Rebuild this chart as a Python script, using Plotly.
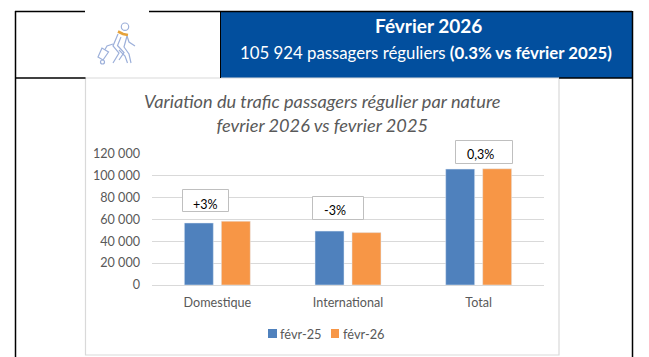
import plotly.graph_objects as go

W, H = 649, 357

categories = ["Domestique", "International", "Total"]
series_names = ["févr-25", "févr-26"]
values_2025 = [56500, 49100, 105600]
values_2026 = [58200, 47724, 105924]
series_colors = ["#4F81BD", "#F79646"]
y_ticks = [0, 20000, 40000, 60000, 80000, 100000, 120000]
y_labels = ["0", "20 000", "40 000", "60 000", "80 000", "100 000", "120 000"]
variation_labels = ["+3%", "-3%", "0,3%"]
chart_title = "Variation du trafic passagers régulier par nature<br>fevrier 2026 vs fevrier 2025"
banner_title = "Février 2026"
banner_subtitle = "105 924 passagers réguliers <b>(0.3% vs février 2025)</b>"

FONT = "Lato, Carlito, Calibri, sans-serif"
GREY = "#595959"
BLACK = "#000000"
BANNER = "#024F9E"
CARD = "#D9D9D9"
ICON = "#9DB0DA"
ICON_ACCENT = "#E5A23B"


def fx(p):
    return p / W


def fy(p):
    return 1 - p / H


def rect(x0, y0, x1, y1, fill="rgba(0,0,0,0)", line=None, width=1, layer="above"):
    return dict(type="rect", xref="paper", yref="paper",
                x0=fx(x0), x1=fx(x1), y0=fy(y0), y1=fy(y1),
                fillcolor=fill, layer=layer,
                line=dict(color=line or "rgba(0,0,0,0)", width=width if line else 0))


def seg(x0, y0, x1, y1, color=BLACK, width=1.5, layer="above"):
    return dict(type="line", xref="paper", yref="paper",
                x0=fx(x0), x1=fx(x1), y0=fy(y0), y1=fy(y1),
                layer=layer, line=dict(color=color, width=width))


def poly(points, color=ICON, width=1.2, closed=False):
    d = "M" + " L".join(f"{fx(x):.5f},{fy(y):.5f}" for x, y in points)
    if closed:
        d += " Z"
    return dict(type="path", xref="paper", yref="paper", path=d, layer="above",
                line=dict(color=color, width=width))


def text(x, y, s, size, color=GREY, xanchor="center", italic=False):
    return dict(xref="paper", yref="paper", x=fx(x), y=fy(y), text=s, showarrow=False,
                xanchor=xanchor, yanchor="middle",
                font=dict(family=FONT, size=size, color=color,
                          style="italic" if italic else "normal"))


fig = go.Figure()
for name, vals, col in zip(series_names, [values_2025, values_2026], series_colors):
    fig.add_trace(go.Bar(name=name, x=categories, y=vals, marker=dict(color=col),
                         showlegend=False, hoverinfo="x+y"))

shapes = [
    rect(220.5, 11.5, 632, 78, fill=BANNER, layer="below"),
    rect(85.5, 78, 559, 355, fill="#FFFFFF", line=CARD, width=1.2, layer="below"),
    seg(15, 11.5, 85, 11.5), seg(149, 11.5, 632, 11.5),
    seg(15, 78, 85.5, 78), seg(559, 78, 632, 78),
    seg(15.5, 11, 15.5, 357), seg(632.5, 11, 632.5, 357),
    seg(220.5, 11, 220.5, 78, width=1),
    # traveller icon
    dict(type="circle", xref="paper", yref="paper", layer="above",
         x0=fx(121.3), x1=fx(128.7), y0=fy(23), y1=fy(30.4),
         line=dict(color=ICON, width=1.2)),
    poly([(118, 34), (113, 46), (119, 53), (113, 63)]),
    poly([(121, 37), (117.5, 45.5), (124, 52.5), (119, 60)]),
    poly([(127, 36), (124, 47), (129, 54), (131, 63)]),
    poly([(119, 50), (125, 56), (127.5, 63)]),
    poly([(127, 36), (129, 42), (135, 46)]),
    poly([(102, 48), (98, 57), (103, 60), (108.5, 52)], closed=True),
    poly([(105, 49.5), (107, 46), (113, 44)]),
    dict(type="circle", xref="paper", yref="paper", layer="above",
         x0=fx(100.5), x1=fx(104.5), y0=fy(60), y1=fy(64),
         line=dict(color=ICON, width=1.2)),
    poly([(118, 31.5), (123, 34), (128, 35)], color=ICON_ACCENT, width=2.6),
    # variation boxes
    rect(182.5, 189.5, 228.5, 211.5, fill="#FFFFFF", line="#BFBFBF"),
    rect(312.5, 196.5, 363.5, 219.5, fill="#FFFFFF", line="#BFBFBF"),
    rect(455.5, 140.5, 512.5, 163.5, fill="#FFFFFF", line="#BFBFBF"),
    # legend swatches
    rect(268, 329, 277, 338, fill=series_colors[0]),
    rect(331, 329, 339, 338, fill=series_colors[1]),
]

annotations = [
    text(428, 26, f"<b>{banner_title}</b>", 19, "#FFFFFF"),
    text(426, 52, banner_subtitle, 16.8, "#FFFFFF"),
    text(205, 204, variation_labels[0], 12.5, BLACK),
    text(335, 210.5, variation_labels[1], 12.5, BLACK),
    text(480, 154, variation_labels[2], 12.5, BLACK),
    text(277.5, 333.5, series_names[0], 12.8, GREY, "left"),
    text(340.5, 333.5, series_names[1], 12.8, GREY, "left"),
    text(322.5, 113, chart_title, 18.2, GREY, italic=True),
]

fig.update_layout(
    width=W, height=H, autosize=False,
    margin=dict(l=0, r=0, t=0, b=0),
    paper_bgcolor="#FFFFFF", plot_bgcolor="rgba(0,0,0,0)",
    barmode="group", bargap=0.434, bargroupgap=0.216,
    showlegend=False,
    font=dict(family=FONT, size=13, color=GREY),
    shapes=shapes, annotations=annotations,
    xaxis=dict(domain=[fx(152), fx(544)], showgrid=False, showline=True, automargin=False,
               linecolor=CARD, linewidth=1, ticks="", ticklabelstandoff=6,
               tickfont=dict(family=FONT, size=12.6, color=GREY), fixedrange=True),
    yaxis=dict(domain=[fy(285), fy(153.3)], range=[0, 120000], automargin=False,
               tickvals=y_ticks, ticktext=y_labels, showgrid=True, gridcolor=CARD,
               gridwidth=1, zeroline=False, showline=False, ticks="",
               ticklabelstandoff=11,
               tickfont=dict(family=FONT, size=12.6, color=GREY), fixedrange=True),
)

fig.write_html(
    "out.html",
    config=dict(displayModeBar=False),
    post_script="document.body.style.margin='0';document.documentElement.style.overflow='hidden';",
)
